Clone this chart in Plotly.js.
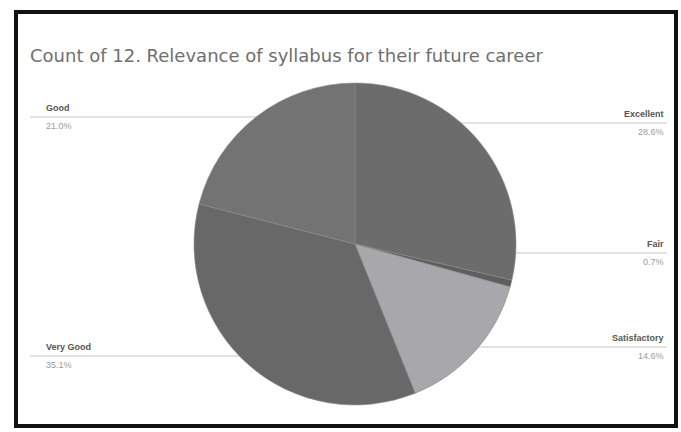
<!DOCTYPE html>
<html><head><meta charset="utf-8">
<script src="https://cdn.plot.ly/plotly-3.0.1.min.js"></script>
<style>html,body{margin:0;padding:0;background:#fff;}#chart{width:681px;height:432px;}</style>
</head><body><div id="chart"></div>
<script>
const categories = ["Excellent", "Fair", "Satisfactory", "Very Good", "Good"];
const percents = [28.6, 0.7, 14.6, 35.1, 21.0];
const sliceColors = ["#6c6c6c", "#5e5e5e", "#a8a8ac", "#686868", "#737373"];
const labelSide = ["right", "right", "right", "left", "left"];
const labelY = [123, 253, 347, 356, 117]; // pixel y of leader lines

const W = 681, H = 432;
const py = y => 1 - y / H;
const px = x => x / W;

const trace = {
  type: "pie",
  labels: categories,
  values: percents,
  sort: false,
  direction: "clockwise",
  rotation: 0,
  marker: {colors: sliceColors, line: {color: "#8a8a8a", width: 0.6}},
  textinfo: "none",
  hoverinfo: "label+percent",
  domain: {x: [px(193), px(517)], y: [py(405), py(83)]},
  showlegend: false
};

const shapes = [
  {type: "rect", xref: "paper", yref: "paper", x0: px(16), x1: px(676), y0: py(426), y1: py(12),
   line: {color: "#111", width: 4}}
];
const annotations = [];
const edgeX = (y, side) => {
  const cx = 355, cy = 244, r = 162;
  const dy = y - cy;
  const dx = Math.sqrt(Math.max(r * r - dy * dy, 0));
  return side === "right" ? cx + dx - 25 : cx - dx + 25;
};
categories.forEach((c, i) => {
  const y = labelY[i];
  const right = labelSide[i] === "right";
  const xEdge = edgeX(y, labelSide[i]);
  shapes.push({type: "line", xref: "paper", yref: "paper",
    x0: right ? px(xEdge) : px(30), x1: right ? px(667) : px(xEdge),
    y0: py(y), y1: py(y), line: {color: "#c8c8c8", width: 1.2}, layer: "below"});
  annotations.push({xref: "paper", yref: "paper", x: right ? px(666) : px(44), y: py(y - 2),
    xanchor: right ? "right" : "left", yanchor: "bottom", showarrow: false,
    text: "<b>" + c + "</b>", font: {family: "Liberation Sans, Arial", size: 9, color: "#555"}});
  annotations.push({xref: "paper", yref: "paper", x: right ? px(666) : px(44), y: py(y + 2),
    xanchor: right ? "right" : "left", yanchor: "top", showarrow: false,
    text: percents[i].toFixed(1) + "%", font: {family: "Liberation Sans, Arial", size: 9, color: "#9a9a9a"}});
});

const layout = {
  width: W, height: H,
  margin: {l: 0, r: 0, t: 0, b: 0},
  paper_bgcolor: "#fff",
  title: {text: "Count of 12. Relevance of syllabus for their future career",
    x: px(30), xanchor: "left", xref: "paper", y: py(56), yanchor: "middle",
    font: {family: "DejaVu Sans, Verdana", size: 18, color: "#6f6f6f"}},
  shapes: shapes,
  annotations: annotations
};
Plotly.newPlot("chart", [trace], layout, {displayModeBar: false, staticPlot: true});
</script></body></html>
